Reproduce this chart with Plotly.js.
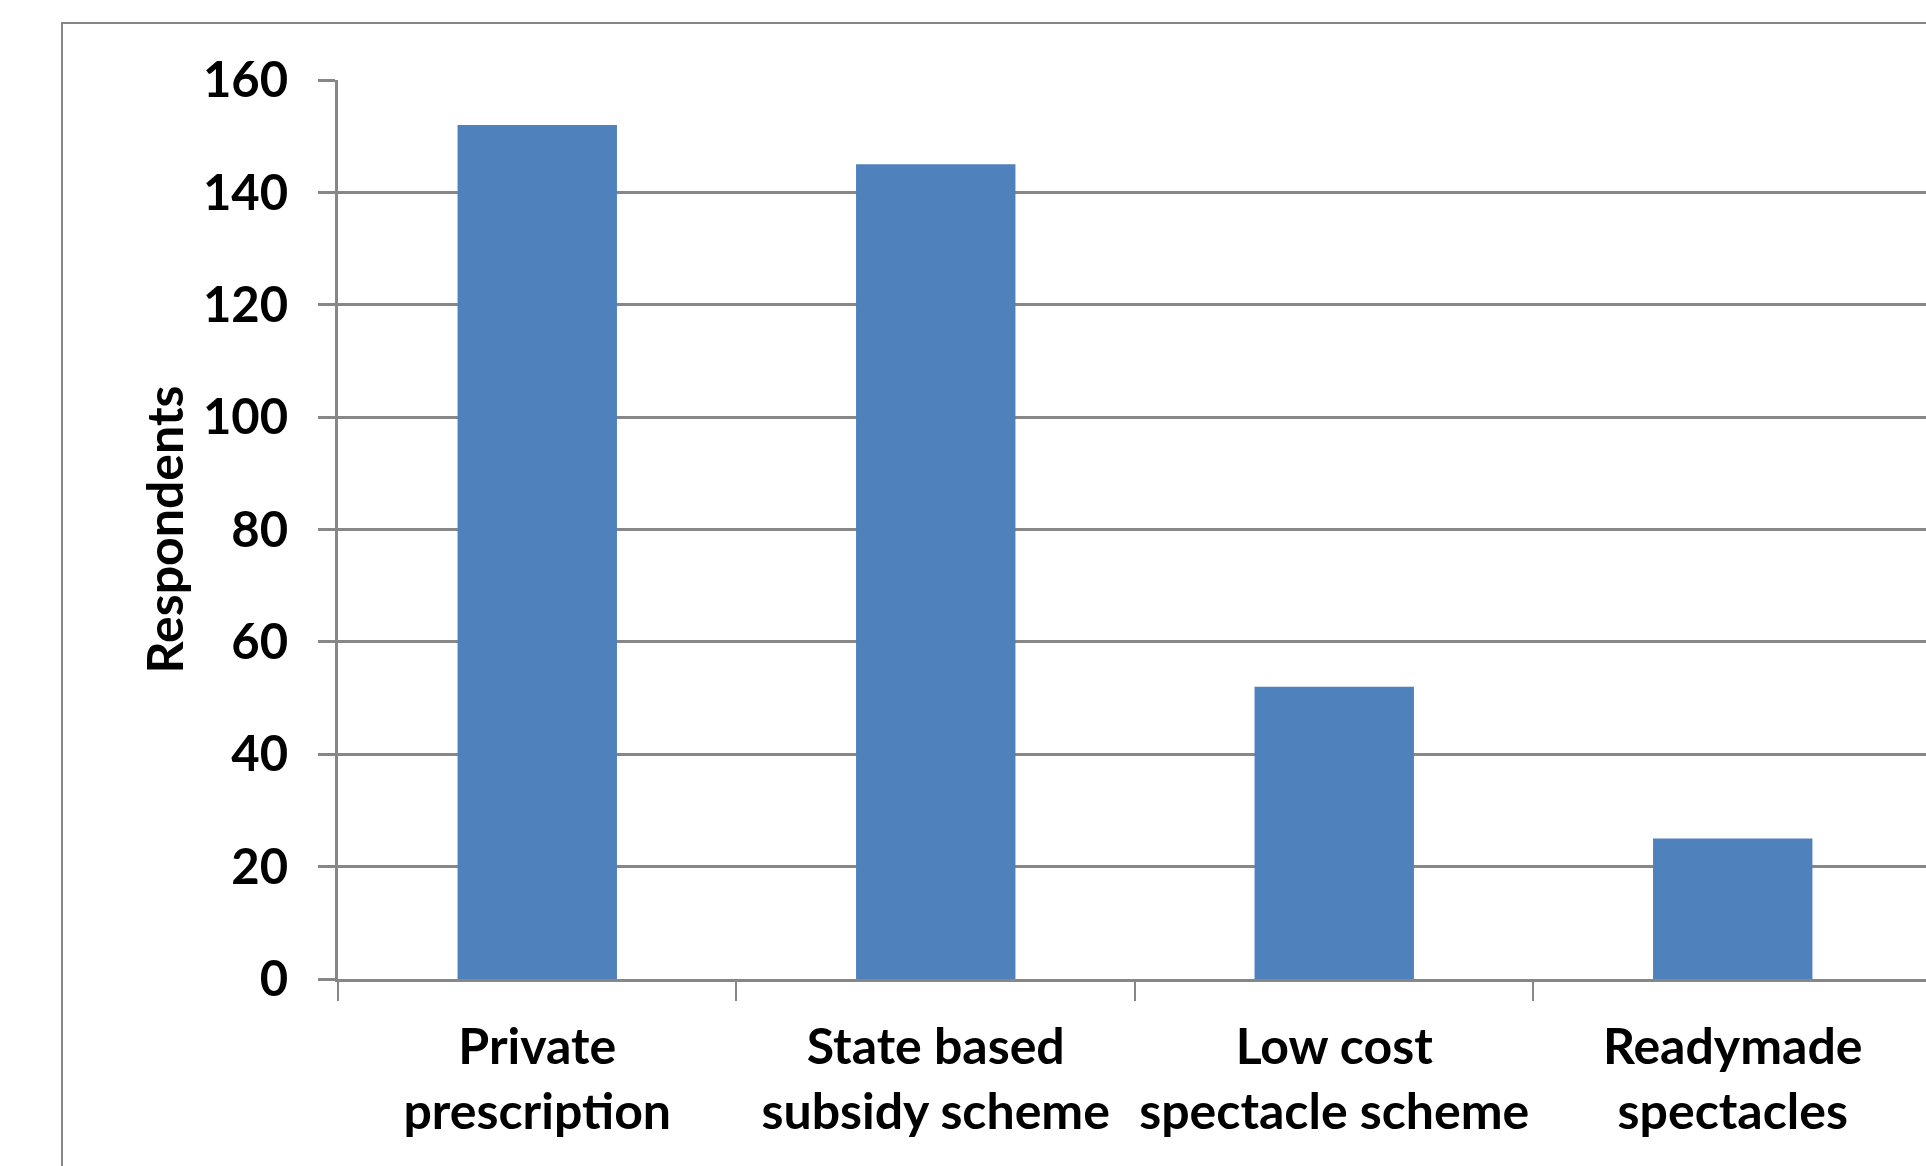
<!DOCTYPE html>
<html>
<head>
<meta charset="utf-8">
<script src="https://cdn.plot.ly/plotly-3.0.1.min.js"></script>
<style>
  html, body { margin: 0; padding: 0; background: #ffffff; overflow: hidden; }
  #chart { width: 1926px; height: 1166px; position: relative; }
  #frame { position: absolute; left: 61px; top: 22px; right: -10px; bottom: -10px;
           border-left: 2px solid #868686; border-top: 2px solid #868686; pointer-events: none; z-index: 5; }
</style>
</head>
<body>
<div id="chart"></div>
<div id="frame"></div>
<script>
const categories = [
  "Private<br>prescription",
  "State based<br>subsidy scheme",
  "Low cost<br>spectacle scheme",
  "Readymade<br>spectacles"
];
const respondents = [152, 145, 52, 25];
const yTickValues = [0, 20, 40, 60, 80, 100, 120, 140, 160];
const yAxisTitle = "Respondents";

const gridColor = "#878787";
const family = "Lato, 'Open Sans', sans-serif";
const xFont = { family: family, size: 50, color: "#000000", weight: "bold" };
const yFont = { family: family, size: 49, color: "#000000", weight: "bold" };
const titleFont = { family: family, size: 50, color: "#000000", weight: "bold" };

const trace = {
  type: "bar",
  x: categories,
  y: respondents,
  marker: { color: "#4F81BD", line: { width: 0 } },
  hoverinfo: "none"
};

const layout = {
  width: 1926,
  height: 1166,
  margin: { l: 338, r: 0, t: 80, b: 187, pad: 0 },
  paper_bgcolor: "#ffffff",
  plot_bgcolor: "#ffffff",
  showlegend: false,
  bargap: 0.6,
  font: xFont,
  xaxis: {
    type: "category",
    range: [-0.5, 3.485],
    showline: true,
    linecolor: gridColor,
    linewidth: 3,
    showgrid: false,
    zeroline: false,
    ticks: "outside",
    tickson: "boundaries",
    ticklen: 19,
    tickwidth: 2,
    tickcolor: gridColor,
    tickfont: xFont,
    tickangle: 0,
    ticklabelstandoff: 22,
    fixedrange: true
  },
  yaxis: {
    range: [0, 160],
    tickmode: "array",
    tickvals: yTickValues,
    ticktext: yTickValues.map(String),
    showline: true,
    linecolor: gridColor,
    linewidth: 3,
    showgrid: true,
    gridcolor: gridColor,
    gridwidth: 3,
    zeroline: false,
    ticks: "outside",
    ticklen: 17,
    tickwidth: 3,
    tickcolor: gridColor,
    tickfont: yFont,
    ticklabelstandoff: 20,
    title: { text: yAxisTitle, font: titleFont, standoff: 4 },
    fixedrange: true
  }
};

Plotly.newPlot("chart", [trace], layout, { displayModeBar: false, staticPlot: true });
</script>
</body>
</html>
